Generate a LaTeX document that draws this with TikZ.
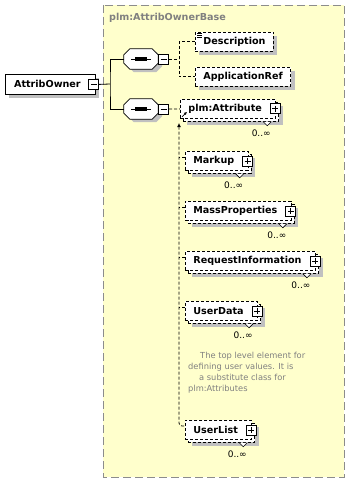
\documentclass[tikz,border=0pt]{standalone}
\usepackage{fontspec}
\setmainfont{DejaVu Sans}
\usetikzlibrary{positioning,arrows.meta,calc,shadows}
\definecolor{groupfill}{HTML}{FFFFCC}
\definecolor{groupline}{HTML}{8C8C8C}
\definecolor{shade}{HTML}{C0C0C0}
\definecolor{muted}{HTML}{808080}

\begin{document}
\begin{tikzpicture}[
      x=1pt, y=-1pt,
      box/.style={draw=black, fill=white, line width=0.8pt, anchor=north west,
                  minimum height=19pt, inner xsep=8pt, inner ysep=0pt,
                  font=\bfseries\fontsize{9.6}{11}\selectfont},
      opt/.style={dash pattern=on 3pt off 2pt},
      lone/.style={box, drop shadow={shadow xshift=4pt, shadow yshift=-4pt,
                                     fill=shade, opacity=1}},
      stacked/.style={box, opt,
                      drop shadow={shadow xshift=7pt, shadow yshift=-7pt,
                                   fill=shade, opacity=1},
                      copy shadow={shadow xshift=3pt, shadow yshift=-3pt,
                                   draw=black, fill=white, opt}},
      kids/.style={execute at end node={\hspace*{6pt}}},
      toggle/.style={draw=black, solid, fill=white, line width=0.8pt,
                     minimum size=10pt, inner sep=0pt},
      minusbox/.style={toggle, path picture={
          \draw[line width=0.8pt] ([xshift=2pt]path picture bounding box.west)
            -- ([xshift=-2pt]path picture bounding box.east);}},
      plusbox/.style={toggle, path picture={
          \draw[line width=0.8pt] ([xshift=2pt]path picture bounding box.west)
            -- ([xshift=-2pt]path picture bounding box.east)
            ([yshift=-2pt]path picture bounding box.north)
            -- ([yshift=2pt]path picture bounding box.south);}},
      seq/.style={minimum width=34pt, minimum height=20pt, inner sep=0pt},
      seqline/.style={draw=black, fill=white, line width=0.8pt},
      seqshade/.style={fill=shade},
      link/.style={line width=0.8pt, color=black},
      notch/.style={line width=0.6pt, fill=white},
      occurs/.style={font=\fontsize{9}{10}\selectfont, inner sep=0pt},
      doc/.style={font=\fontsize{8.3}{11}\selectfont, text=muted, align=left, inner sep=0pt},
      title/.style={font=\bfseries\fontsize{9.6}{11}\selectfont, text=muted, inner sep=0pt},
    ]
      \useasboundingbox (0,0) rectangle (350,484);

      \draw[groupline, dash pattern=on 8pt off 4pt, fill=groupfill, line width=0.8pt]
        (103,5) rectangle (344,477);
      \node[title, anchor=west] (grouptitle) at (109,18) {plm:AttribOwnerBase};

      \node[lone, minimum width=90pt, minimum height=20pt] (owner) at (5,74) {AttribOwner\hspace*{6pt}};
      \node[minusbox] (ownerx) at ([xshift=-2pt]owner.east) {};

      % sequence compositors
      \node[seq] (seqA) at (141,59) {};
      \node[seq] (seqB) at (141,109) {};
      \foreach \s in {seqA,seqB}{
        \foreach \dx/\dy/\look in {4/3/seqshade, 0/0/seqline}
          \path[\look] ([shift={(6+\dx,\dy)}]\s.north west) -- ([shift={(-6+\dx,\dy)}]\s.north east)
            -- ([shift={(\dx,6+\dy)}]\s.north east) -- ([shift={(\dx,-6+\dy)}]\s.south east)
            -- ([shift={(-6+\dx,\dy)}]\s.south east) -- ([shift={(6+\dx,\dy)}]\s.south west)
            -- ([shift={(\dx,-6+\dy)}]\s.south west) -- ([shift={(\dx,6+\dy)}]\s.north west) -- cycle;
        \draw[line width=0.9pt] ([xshift=-10pt]\s.center) -- ([xshift=10pt]\s.center);
        \foreach \d in {-4,0,4}
          \fill ([xshift=\d pt]\s.center) +(-1.6,-1.6) rectangle +(1.6,1.6);
      }
      \node[minusbox, right=0pt of seqA] (seqAx) {};
      \node[minusbox, right=0pt of seqB] (seqBx) {};

      \node[lone, opt] (description) at (195,32) {Description};
      \node[lone, opt] (appref) at (195,67) {ApplicationRef};

      \node[stacked, kids] (attribute) at (180,99) {plm:Attribute};
      \node[stacked, kids] (markup) at (185,151) {Markup};
      \node[stacked, kids] (massprops) at (185,201) {MassProperties};
      \node[stacked, kids] (reqinfo) at (185,251) {RequestInformation};
      \node[stacked, kids] (userdata) at (185,301) {UserData};
      \node[stacked, kids] (userlist) at (185,420) {UserList};

      \foreach \n in {attribute,markup,massprops,reqinfo,userdata,userlist}{
        \node[plusbox] (\n-x) at ([xshift=-1pt]\n.east) {};
        \coordinate (\n-v) at ([xshift=-9pt,yshift=-3pt]\n.south east);
        \draw[notch] ([xshift=-4pt]\n-v) -- ([yshift=-4pt]\n-v) -- ([xshift=4pt]\n-v);
        \node[occurs] (\n-occ) at ([xshift=-6pt,yshift=-11pt]\n-v) {0..∞};
      }

      % documentation icon and reference arrow
      \draw[line width=0.5pt] ([xshift=2pt,yshift=-1.5pt]description.north west) -- ++(5,0)
        ++(-5,2) -- ++(5,0) ++(-5,2) -- ++(5,0);
      \draw[-{Latex[length=3pt,width=3pt]}, line width=0.7pt]
        ([xshift=2pt,yshift=2pt]attribute.south west) -- ++(5,-5);

      \node[doc, anchor=north west] (userdatadoc) at (188,352)
        {\hspace*{12pt}The top level element for\\defining user values. It is\\
         \hspace*{11pt}a substitute class for\\plm:Attributes};

      \coordinate (fork) at (110,84);
      \coordinate (forkA) at (179,59);
      \coordinate (substtop) at (179,123);

      \draw[link] (ownerx.east) -- (fork);
      \draw[link] (seqA.west) -| (fork) |- (seqB.west);
      \draw[link, opt] (seqAx.east) -- (forkA);
      \draw[link, opt] (description.west) -| (forkA) |- (appref.west);
      \draw[link, opt] (seqBx.east) -- (attribute.west);
      \draw[link, opt, {Latex[length=4pt,width=4pt]}-, rounded corners=3pt]
        (substtop) |- ([yshift=-6pt]userlist.north west);
      \foreach \n in {markup,massprops,reqinfo,userdata}
        \draw[link, opt] ([yshift=-6pt]\n.north west) -- ++(-6,0);

    \end{tikzpicture}
\end{document}
